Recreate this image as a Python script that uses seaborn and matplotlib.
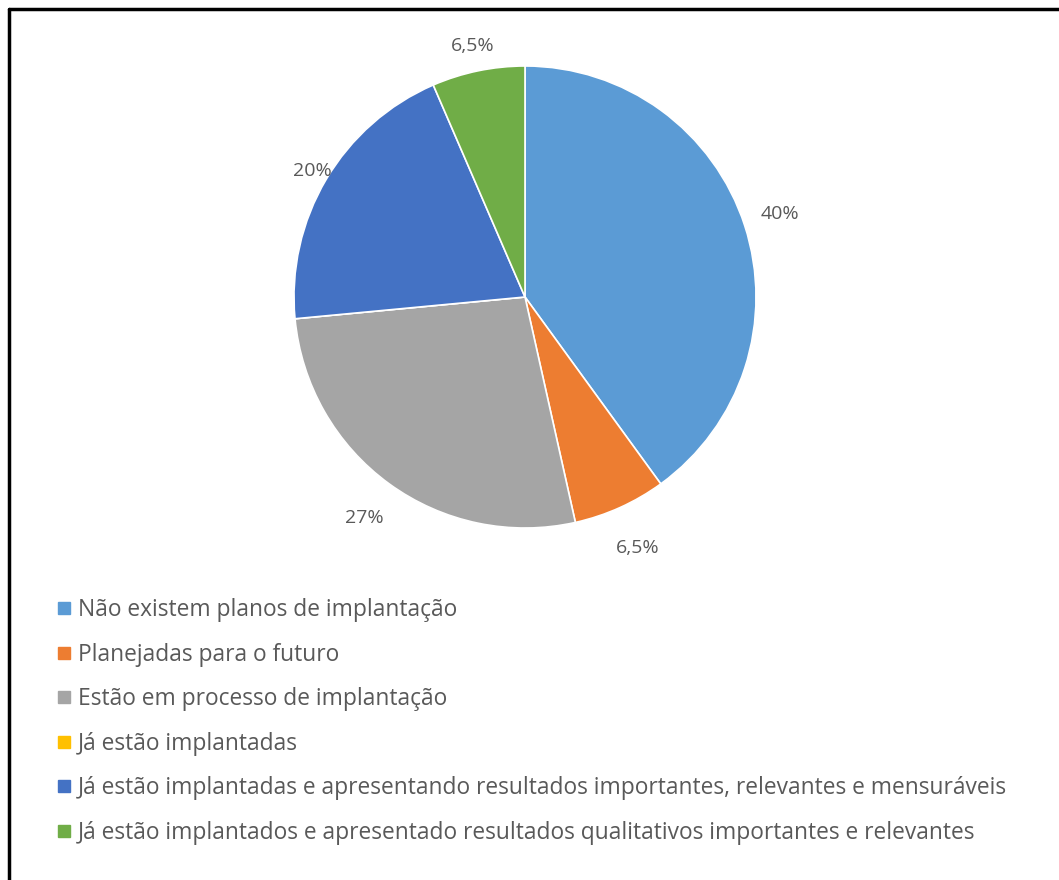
import matplotlib
matplotlib.use("Agg")
import matplotlib.pyplot as plt
from matplotlib.lines import Line2D
import numpy as np
import seaborn as sns

categories = [
    "Não existem planos de implantação",
    "Planejadas para o futuro",
    "Estão em processo de implantação",
    "Já estão implantadas",
    "Já estão implantadas e apresentando resultados importantes, relevantes e mensuráveis",
    "Já estão implantados e apresentado resultados qualitativos importantes e relevantes",
]
values = [40, 6.5, 27, 0, 20, 6.5]
colors = ["#5B9BD5", "#ED7D31", "#A5A5A5", "#FFC000", "#4472C4", "#70AD47"]

sns.set_theme(style="white")
plt.rcParams["font.family"] = ["Open Sans", "DejaVu Sans"]
text_color = "#595959"

W, H = 1059, 880
fig = plt.figure(figsize=(W / 100, H / 100), dpi=100)
fig.patch.set_facecolor("white")

# pie centred at (525, 297) px with radius ~231 px
cx, cy, r = 525, 297, 231
ax = fig.add_axes([(cx - r) / W, 1 - (cy + r) / H, 2 * r / W, 2 * r / H])


def fmt(v):
    return f"{v:g}".replace(".", ",") + "%"


wedges, _ = ax.pie(
    values,
    colors=colors,
    startangle=90,
    counterclock=False,
    wedgeprops=dict(edgecolor="white", linewidth=1.2),
    radius=1.0,
)
ax.set_xlim(-1, 1)
ax.set_ylim(-1, 1)
ax.set_aspect("equal")
ax.axis("off")

# value labels placed outside each slice
label_dist = [1.16, 1.19, 1.18, 1.15, 1.07, 1.11]
for w, v, d in zip(wedges, values, label_dist):
    if v == 0:
        continue
    ang = np.deg2rad((w.theta1 + w.theta2) / 2)
    ax.text(d * np.cos(ang), d * np.sin(ang), fmt(v), ha="center", va="center",
            fontsize=14, color=text_color, clip_on=False)

# legend below the pie
handles = [Line2D([0], [0], marker="s", linestyle="none", markersize=8.5,
                  markerfacecolor=c, markeredgecolor=c) for c in colors]
fig.legend(handles, categories, loc="upper left",
           bbox_to_anchor=(48 / W, 1 - 589 / H), frameon=False,
           fontsize=16.4, labelcolor=text_color, handlelength=0.6,
           handletextpad=0.3, labelspacing=0.9, borderaxespad=0)

# frame lines along top and left
fig.add_artist(Line2D([9 / W, 1], [1 - 9 / H, 1 - 9 / H], color="black", linewidth=2.5,
                      transform=fig.transFigure))
fig.add_artist(Line2D([9 / W, 9 / W], [0, 1 - 9 / H], color="black", linewidth=2.5,
                      transform=fig.transFigure))

fig.savefig("out.png", dpi=100, facecolor="white")
